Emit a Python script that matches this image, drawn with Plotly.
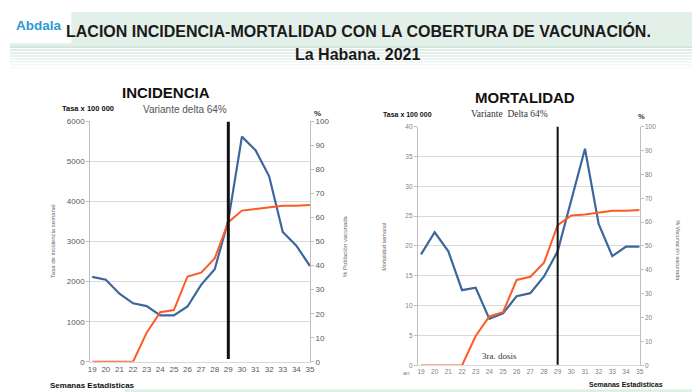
import plotly.graph_objects as go

W, H = 700, 392

# ---------------- data ----------------
weeks = list(range(19, 36))
inc_rate = [2120, 2050, 1700, 1460, 1390, 1160, 1160, 1380, 1920, 2310,
            3530, 5620, 5280, 4630, 3240, 2900, 2390]
inc_vacc = [0, 0, 0, 0, 12.1, 20.6, 21.5, 35.5, 37.1, 43.0,
            58.1, 62.9, 63.6, 64.2, 64.9, 64.9, 65.2]
mort_rate = [18.6, 22.3, 19.1, 12.6, 13.0, 7.8, 8.7, 11.6, 12.1, 14.9,
             19.1, 27.7, 36.3, 23.7, 18.3, 19.9, 19.9]
mort_vacc = [0, 0, 0, 0, 12.3, 20.5, 22.3, 35.8, 37.1, 43.0,
             58.7, 62.8, 63.2, 64.1, 64.8, 64.8, 65.1]
delta_week = 29
inc_ticks = [0, 1000, 2000, 3000, 4000, 5000, 6000]
mort_ticks = [0, 5, 10, 15, 20, 25, 30, 35, 40]
pct_ticks = [0, 10, 20, 30, 40, 50, 60, 70, 80, 90, 100]

BLUE = "#3d679c"
ORANGE = "#ff5a26"
GRID = "#d9d9d9"
AX = "#bfbfbf"
TXT = "#595959"


def px(x, y):
    return x / W, 1 - y / H


fig = go.Figure()

fig.add_trace(go.Scatter(x=weeks, y=inc_vacc, xaxis="x", yaxis="y2", mode="lines",
                         line=dict(color=ORANGE, width=2), hoverinfo="skip"))
fig.add_trace(go.Scatter(x=weeks, y=inc_rate, xaxis="x", yaxis="y", mode="lines",
                         line=dict(color=BLUE, width=2.2), hoverinfo="skip"))
fig.add_trace(go.Scatter(x=weeks, y=mort_vacc, xaxis="x2", yaxis="y4", mode="lines",
                         line=dict(color=ORANGE, width=2), hoverinfo="skip"))
fig.add_trace(go.Scatter(x=weeks, y=mort_rate, xaxis="x2", yaxis="y3", mode="lines",
                         line=dict(color=BLUE, width=2.2), hoverinfo="skip"))

tickf_l = dict(family="Liberation Sans, Arial, sans-serif", size=8, color=TXT)
tickf_r = dict(family="Liberation Sans, Arial, sans-serif", size=6.5, color="#7f7f7f")

fig.update_layout(
    width=W, height=H, autosize=False,
    margin=dict(l=0, r=0, t=0, b=0),
    paper_bgcolor="white", plot_bgcolor="rgba(0,0,0,0)",
    showlegend=False,
    xaxis=dict(domain=[81 / W, 303 / W], anchor="y", range=[18.85, 35],
               tickmode="array", tickvals=weeks, ticktext=[str(w) for w in weeks],
               tickfont=tickf_l, showgrid=False, zeroline=False,
               showline=True, linecolor=GRID, ticks=""),
    yaxis=dict(domain=[1 - 358 / H, 1 - 112 / H], anchor="x", range=[0, 6000],
               tickmode="array", tickvals=inc_ticks, tickfont=tickf_l,
               showgrid=True, gridcolor=GRID, zeroline=False,
               showline=True, linecolor=AX, ticks="outside", ticklen=3, tickcolor=AX),
    yaxis2=dict(overlaying="y", side="right", anchor="x", range=[0, 100],
                tickmode="array", tickvals=pct_ticks, tickfont=tickf_l,
                showgrid=False, zeroline=False,
                showline=True, linecolor=AX, ticks="outside", ticklen=3, tickcolor=AX),
    xaxis2=dict(domain=[412 / W, 636 / W], anchor="y3", range=[18.77, 35],
                tickmode="array", tickvals=weeks, ticktext=[str(w) for w in weeks],
                tickfont=tickf_r, showgrid=False, zeroline=False,
                showline=True, linecolor=GRID, ticks=""),
    yaxis3=dict(domain=[1 - 361.7 / H, 1 - 117.3 / H], anchor="x2", range=[0, 40],
                tickmode="array", tickvals=mort_ticks, tickfont=tickf_r,
                showgrid=True, gridcolor=GRID, zeroline=False,
                showline=True, linecolor=AX, ticks="outside", ticklen=3, tickcolor=AX),
    yaxis4=dict(overlaying="y3", side="right", anchor="x2", range=[0, 100],
                tickmode="array", tickvals=pct_ticks, tickfont=tickf_r,
                showgrid=False, zeroline=False,
                showline=True, linecolor=AX, ticks="outside", ticklen=3, tickcolor=AX),
)

shapes = []
# header background
shapes.append(dict(type="rect", xref="paper", yref="paper", layer="below",
                   x0=0, x1=1, y0=px(0, 36)[1], y1=1,
                   fillcolor="#e3f0e9", line=dict(width=0)))
for i, yy in enumerate(range(36, 60, 3)):
    a = 0.9 - i * 0.11
    shapes.append(dict(type="line", xref="paper", yref="paper", layer="below",
                       x0=0, x1=1, y0=px(0, yy)[1], y1=px(0, yy)[1],
                       line=dict(color=f"rgba(200,225,212,{max(a,0.1):.2f})", width=1.5)))
# logo box
shapes.append(dict(type="rect", xref="paper", yref="paper", layer="below",
                   x0=0, x1=62 / W, y0=px(0, 32)[1], y1=1,
                   fillcolor="white", line=dict(width=0)))
# bottom band and right edge
shapes.append(dict(type="rect", xref="paper", yref="paper", layer="below",
                   x0=116 / W, x1=1, y0=0, y1=px(0, 386)[1],
                   fillcolor="#e0efe6", line=dict(width=0)))
shapes.append(dict(type="rect", xref="paper", yref="paper", layer="below",
                   x0=690 / W, x1=1, y0=0, y1=px(0, 62)[1],
                   fillcolor="#e6f2ec", line=dict(width=0)))
# Delta variant marker lines
shapes.append(dict(type="line", xref="x", yref="y", x0=delta_week, x1=delta_week,
                   y0=70, y1=6000, line=dict(color="#111111", width=3)))
shapes.append(dict(type="line", xref="x2", yref="y3", x0=delta_week, x1=delta_week,
                   y0=0.1, y1=40, line=dict(color="#111111", width=2)))
fig.update_layout(shapes=shapes)

SANS = "Liberation Sans, Arial, sans-serif"
SERIF = "Liberation Serif, Times New Roman, serif"


def ann(text, x, y, size, color="#111111", family=SANS, xanchor="center",
        textangle=0):
    xx, yy = px(x, y)
    return dict(text=text, x=xx, y=yy, xref="paper", yref="paper",
                xanchor=xanchor, yanchor="middle", showarrow=False,
                textangle=textangle, font=dict(family=family, size=size, color=color))


anns = [
    ann("<b>LACION INCIDENCIA-MORTALIDAD CON LA COBERTURA DE VACUNACIÓN.</b>",
        352, 19, 16, "#1a1a1a", SANS),
    ann("<b>La Habana. 2021</b>", 352, 43, 16, "#1a1a1a", SANS),
    ann("<b>Abdala</b>", 4, 14, 13.5, "#2a9ad3", SANS, xanchor="left"),
    ann("<b>INCIDENCIA</b>", 158, 82, 15, "#111111", SANS),
    ann("<b>MORTALIDAD</b>", 520, 87, 15, "#111111", SANS),
    ann("<b>Tasa x 100 000</b>", 50, 99, 7.5, "#111111", SANS, xanchor="left"),
    ann("<b>Tasa x 100 000</b>", 375, 105, 7, "#111111", SANS, xanchor="left"),
    ann("Variante delta 64%", 177, 100, 10, "#555555", SANS),
    ann("Variante  Delta 64%", 505, 104, 9.5, "#333333", SERIF),
    ann("<b>%</b>", 311, 104, 8, "#333333", SANS),
    ann("<b>%</b>", 638, 107, 7.5, "#333333", SANS),
    ann("3ra. dosis", 494, 352, 9, "#333333", SERIF),
    ann("an", 400, 369, 6, "#7f7f7f", SANS),
    ann("<b>Semanas Estadisticas</b>", 38, 382, 8, "#111111", SANS, xanchor="left"),
    ann("<b>Semanas Estadisticas</b>", 583, 381, 7, "#111111", SANS, xanchor="left"),
    ann("Tasa de incidencia semanal", 43, 235, 6, "#666666", SANS, textangle=-90),
    ann("% Población vacunada", 339, 240, 6, "#666666", SANS, textangle=-90),
    ann("Mortalidad semanal", 378, 240, 5.5, "#666666", SANS, textangle=-90),
    ann("% Vacunación vacunada", 674, 244, 5.5, "#666666", SANS, textangle=90),
]
fig.update_layout(annotations=anns)

fig.write_html("out.html")
